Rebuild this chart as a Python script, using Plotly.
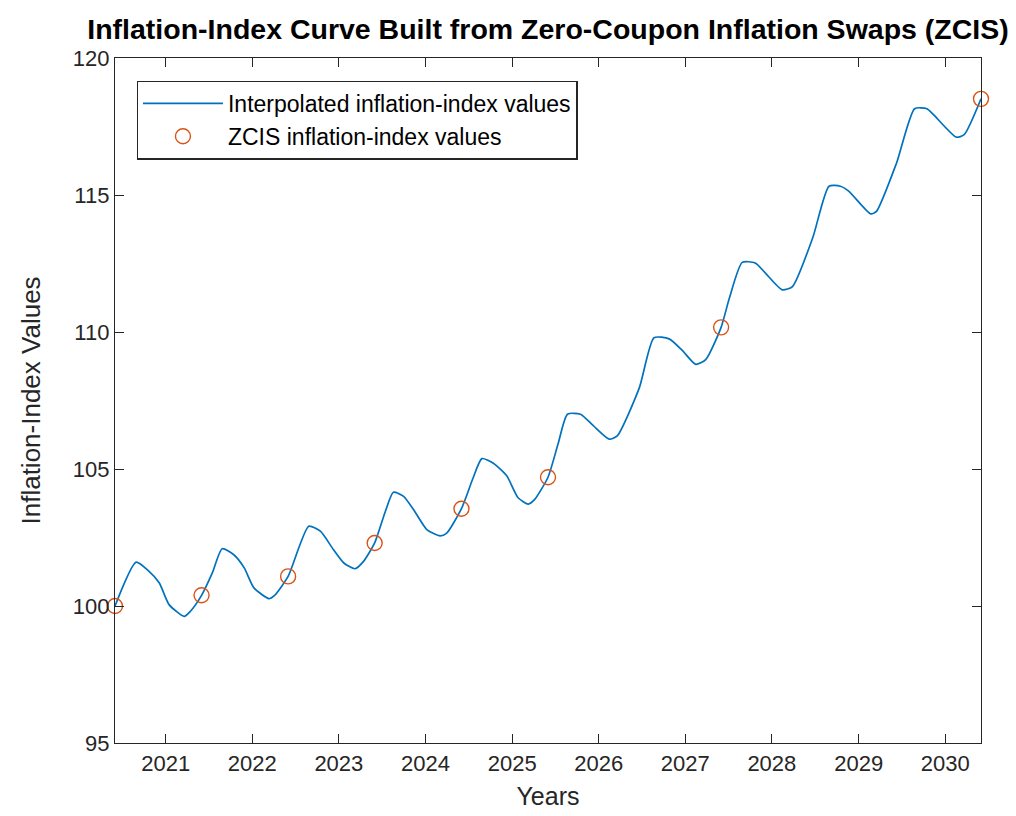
"""
Inflation-index curve built from zero-coupon inflation swaps (ZCIS)
"""

import plotly.graph_objects as go

# curve values (date, index value)
curve_dates = [
    "2020-06-01", "2020-08-29", "2020-10-17", "2020-12-05", "2021-01-15", "2021-03-20", "2021-04-15",
    "2021-06-01", "2021-07-16", "2021-08-27", "2021-10-15", "2021-11-28", "2022-01-08", "2022-03-12",
    "2022-04-05", "2022-06-01", "2022-08-27", "2022-10-15", "2022-12-09", "2023-01-22", "2023-03-10",
    "2023-04-15", "2023-06-01", "2023-07-16", "2023-08-19", "2023-10-01", "2023-11-17", "2024-01-08",
    "2024-03-03", "2024-03-31", "2024-06-01", "2024-07-20", "2024-08-26", "2024-10-12", "2024-12-09",
    "2025-01-26", "2025-03-10", "2025-04-05", "2025-06-01", "2025-07-13", "2025-08-22", "2025-10-16",
    "2025-12-09", "2026-02-14", "2026-03-20", "2026-06-21", "2026-08-22", "2026-10-25", "2026-12-19",
    "2027-02-14", "2027-03-28", "2027-06-01", "2027-07-06", "2027-08-29", "2027-10-23", "2027-12-05",
    "2028-02-14", "2028-03-28", "2028-06-21", "2028-08-29", "2028-10-16", "2028-11-20", "2029-02-21",
    "2029-03-17", "2029-06-10", "2029-08-25", "2029-10-16", "2029-11-13", "2030-02-17", "2030-03-22",
    "2030-06-01",
]
curve_values = [
    100.00, 101.60, 101.31, 100.84, 100.05, 99.62, 99.81,
    100.39, 101.20, 102.09, 101.87, 101.39, 100.66, 100.27,
    100.39, 101.08, 102.91, 102.73, 102.06, 101.57, 101.36,
    101.63, 102.30, 103.45, 104.15, 104.00, 103.45, 102.78,
    102.56, 102.66, 103.55, 104.67, 105.38, 105.22, 104.75,
    103.95, 103.72, 103.88, 104.70, 105.90, 107.00, 107.00,
    106.58, 106.09, 106.21, 107.96, 109.79, 109.75, 109.33,
    108.82, 108.99, 110.17, 111.24, 112.54, 112.52, 112.15,
    111.54, 111.66, 113.43, 115.32, 115.32, 115.14, 114.31,
    114.40, 116.17, 118.15, 118.15, 117.93, 117.11, 117.20,
    118.51,
]

# ZCIS points
zcis_dates = ["2020-06-01", "2021-06-01", "2022-06-01", "2023-06-01",
              "2024-06-01", "2025-06-01", "2027-06-01", "2030-06-01"]
zcis_values = [100.00, 100.39, 101.08, 102.30, 103.55, 104.70, 110.17, 118.51]

year_ticks = [f"{y}-01-01" for y in range(2021, 2031)]
year_labels = [str(y) for y in range(2021, 2031)]

AXIS_COLOR = "#262626"
FONT = "Liberation Sans, Arial, sans-serif"

fig = go.Figure()

fig.add_trace(go.Scatter(
    x=curve_dates,
    y=curve_values,
    mode="lines",
    name="Interpolated inflation-index values",
    line=dict(color="#0072BD", width=1.7, shape="spline", smoothing=0.6),
))

fig.add_trace(go.Scatter(
    x=zcis_dates,
    y=zcis_values,
    mode="markers",
    name="ZCIS inflation-index values",
    marker=dict(symbol="circle-open", size=15, color="#D95319", line=dict(width=1.4)),
    cliponaxis=False,
))

axis_common = dict(
    showgrid=False,
    zeroline=False,
    showline=True,
    linewidth=1.3,
    linecolor=AXIS_COLOR,
    mirror="ticks",
    ticks="inside",
    ticklen=9,
    tickwidth=1.3,
    tickcolor=AXIS_COLOR,
    tickfont=dict(family=FONT, size=22, color=AXIS_COLOR),
)

fig.update_layout(
    width=1016,
    height=816,
    paper_bgcolor="white",
    plot_bgcolor="white",
    margin=dict(l=107, r=43, t=50, b=81),
    title=dict(
        text="<b>Inflation-Index Curve Built from Zero-Coupon Inflation Swaps (ZCIS)</b>",
        x=0.5315, xanchor="center", y=0.974, yanchor="middle",
        font=dict(family=FONT, size=28.5, color="black"),
    ),
    xaxis=dict(
        axis_common,
        type="date",
        range=["2020-06-01", "2030-06-01"],
        tickvals=year_ticks,
        ticktext=year_labels,
        title=dict(text="Years", font=dict(family=FONT, size=25, color=AXIS_COLOR), standoff=12),
    ),
    yaxis=dict(
        axis_common,
        range=[95, 120],
        tickvals=[95, 100, 105, 110, 115, 120],
    ),
    legend=dict(
        x=0.025, y=0.967, xanchor="left", yanchor="top",
        bgcolor="white",
        bordercolor=AXIS_COLOR,
        borderwidth=1.3,
        font=dict(family=FONT, size=23, color="black"),
        itemwidth=80,
        tracegroupgap=0,
    ),
)

# y-axis title placed explicitly
fig.add_annotation(
    text="Inflation-Index Values",
    xref="paper", yref="paper",
    x=-0.097, y=0.5, xanchor="center", yanchor="middle",
    textangle=-90, showarrow=False,
    font=dict(family=FONT, size=26, color=AXIS_COLOR),
)

fig.write_html("out.html")
